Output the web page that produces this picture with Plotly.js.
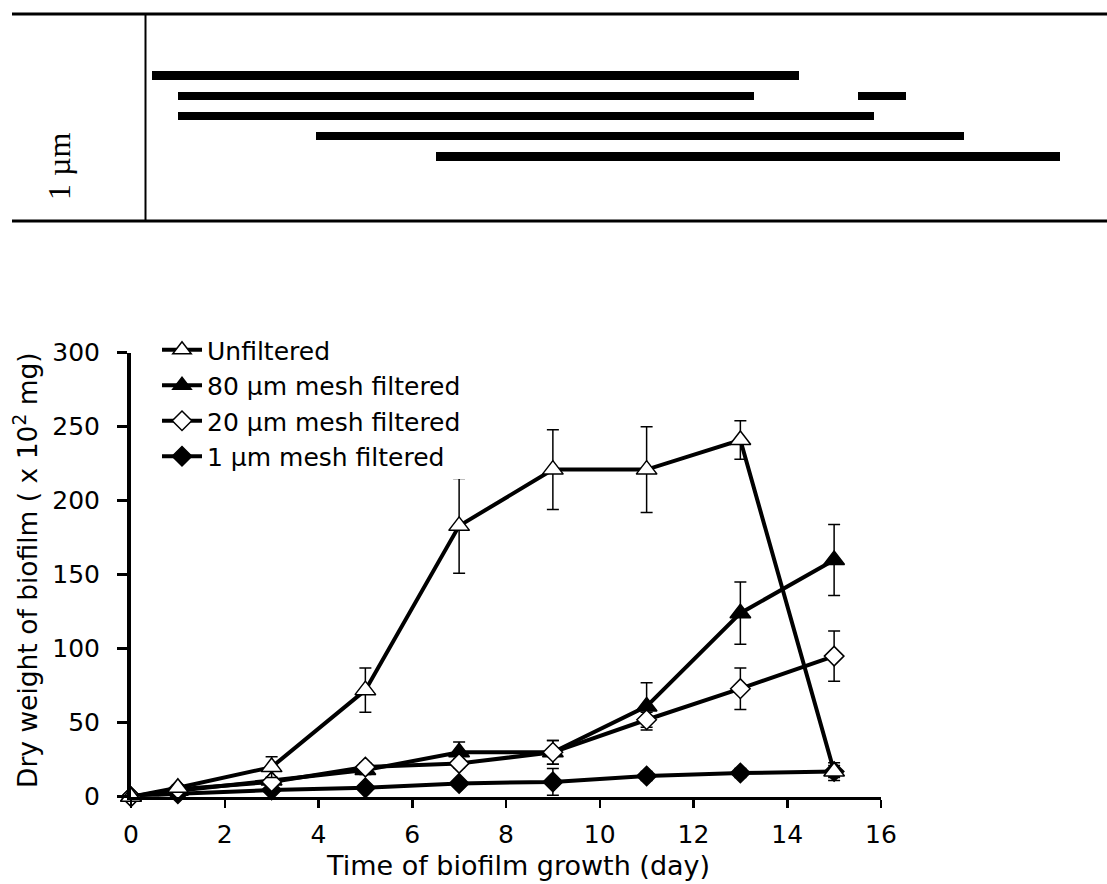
<!DOCTYPE html>
<html>
<head>
<meta charset="utf-8">
<script src="https://cdn.plot.ly/plotly-3.0.1.min.js"></script>
<style>html,body{margin:0;padding:0;background:#fff;}#chart{width:1107px;height:884px;}</style>
</head>
<body>
<div id="chart"></div>
<script>
// ---- Growth curve data (bottom panel) ----
const days = [0, 1, 3, 5, 7, 9, 11, 13, 15];
const unfiltered     = [0, 6, 20, 72, 183, 221, 221, 241, 17];
const unfilteredErr  = [0, 2, 7, 15, 32, 27, 29, 13, 4];
const mesh80         = [0, 4, 11, 18, 30, 30, 61, 124, 160];
const mesh80Err      = [0, 1, 2, 3, 7, 8, 16, 21, 24];
const mesh20         = [0, 5, 10, 20, 22.5, 30, 52, 73, 95];
const mesh20Err      = [0, 1, 2, 3, 3, 8, 5, 14, 17];
const mesh1          = [0, 2, 4.5, 6, 9, 10, 14, 16, 17];
const mesh1Err       = [0, 1, 2, 2, 2, 9, 3, 3, 6];
const xTicks = [0, 2, 4, 6, 8, 10, 12, 14, 16];
const yTicks = [0, 50, 100, 150, 200, 250, 300];

// ---- Band presence data (top panel, "1 µm") ----
const bandRow   = [1, 2, 2, 3, 4, 5];
const bandStart = [0.6, 3.3, 74.1, 3.3, 17.7, 30.2];
const bandEnd   = [68.0, 63.3, 79.1, 75.8, 85.1, 95.1];
const panelLabel = "1 µm";

const W = 1107, H = 884;
const px = v => v / W;
const py = v => 1 - v / H;

function series(name, y, err, symbol, fill, rank) {
  return {
    type: 'scatter', mode: 'lines+markers', name: name,
    x: days, y: y, xaxis: 'x', yaxis: 'y',
    line: {color: '#000', width: 4},
    marker: {symbol: symbol, size: symbol.indexOf('triangle') === 0 ? 18 : 15,
             color: fill, line: {color: '#000', width: 1.5}},
    error_y: {type: 'data', array: err, visible: true, color: '#000', thickness: 1.5, width: 6},
    cliponaxis: false, legendrank: rank
  };
}

const traces = [
  series('1 µm mesh filtered', mesh1, mesh1Err, 'diamond', '#000', 4),
  series('80 µm mesh filtered', mesh80, mesh80Err, 'triangle-up', '#000', 2),
  series('20 µm mesh filtered', mesh20, mesh20Err, 'diamond', '#fff', 3),
  series('Unfiltered', unfiltered, unfilteredErr, 'triangle-up', '#fff', 1),
  {
    type: 'bar', orientation: 'h', xaxis: 'x2', yaxis: 'y2',
    y: bandRow, base: bandStart, x: bandEnd.map((e, i) => e - bandStart[i]),
    width: 0.42, marker: {color: '#000', line: {width: 0}},
    showlegend: false, hoverinfo: 'skip'
  }
];

const FAM = 'DejaVu Sans, Verdana, sans-serif';
const tickFont = {family: FAM, size: 25, color: '#000'};

const layout = {
  width: W, height: H,
  margin: {l: 0, r: 0, t: 0, b: 0},
  paper_bgcolor: '#fff', plot_bgcolor: 'rgba(0,0,0,0)',
  font: tickFont,
  showlegend: true,
  bargap: 0,
  xaxis: {
    domain: [px(131), px(881)], range: [0, 16], anchor: 'y',
    tickvals: xTicks, ticks: 'outside', ticklen: 8, tickwidth: 2.5, tickcolor: '#000',
    showline: true, linecolor: '#000', linewidth: 3.5,
    showgrid: false, zeroline: false, tickfont: tickFont, ticklabelstandoff: 5
  },
  yaxis: {
    domain: [py(796.7), py(352.7)], range: [0, 300], anchor: 'x',
    tickvals: yTicks, ticks: 'outside', ticklen: 10, tickwidth: 2.5, tickcolor: '#000',
    showline: true, linecolor: '#000', linewidth: 4,
    showgrid: false, zeroline: false, tickfont: tickFont, ticklabelstandoff: 12
  },
  xaxis2: {domain: [px(146), 1], range: [0, 100], anchor: 'y2', visible: false, fixedrange: true},
  yaxis2: {domain: [py(221), py(14)], range: [8.21, -2.06], anchor: 'x2', visible: false, fixedrange: true},
  legend: {
    x: px(157), y: py(327), xanchor: 'left', yanchor: 'top',
    bgcolor: '#fff', borderwidth: 0, font: {family: FAM, size: 25, color: '#000'},
    tracegroupgap: 0, itemwidth: 40, itemsizing: 'trace'
  },
  shapes: [
    {type: 'line', xref: 'paper', yref: 'paper', x0: px(12), x1: 1, y0: py(14), y1: py(14), line: {color: '#000', width: 3}},
    {type: 'line', xref: 'paper', yref: 'paper', x0: px(12), x1: 1, y0: py(221), y1: py(221), line: {color: '#000', width: 3}},
    {type: 'line', xref: 'paper', yref: 'paper', x0: px(145.5), x1: px(145.5), y0: py(14), y1: py(221), line: {color: '#000', width: 2}}
  ],
  annotations: [
    {text: panelLabel, xref: 'paper', yref: 'paper', x: px(59), y: py(167), textangle: -90,
     xanchor: 'center', yanchor: 'middle', showarrow: false,
     font: {family: 'Liberation Serif, Times New Roman, serif', size: 32, color: '#000'}},
    {text: 'Time of biofilm growth (day)', xref: 'paper', yref: 'paper', x: px(518), y: py(865),
     xanchor: 'center', yanchor: 'middle', showarrow: false, font: {family: FAM, size: 27, color: '#000'}},
    {text: 'Dry weight of biofilm ( x 10<sup>2</sup> mg)', xref: 'paper', yref: 'paper', x: px(26), y: py(570),
     xanchor: 'center', yanchor: 'middle', textangle: -90, showarrow: false,
     font: {family: FAM, size: 26.5, color: '#000'}}
  ]
};

Plotly.newPlot('chart', traces, layout, {staticPlot: true, displayModeBar: false});
</script>
</body>
</html>
